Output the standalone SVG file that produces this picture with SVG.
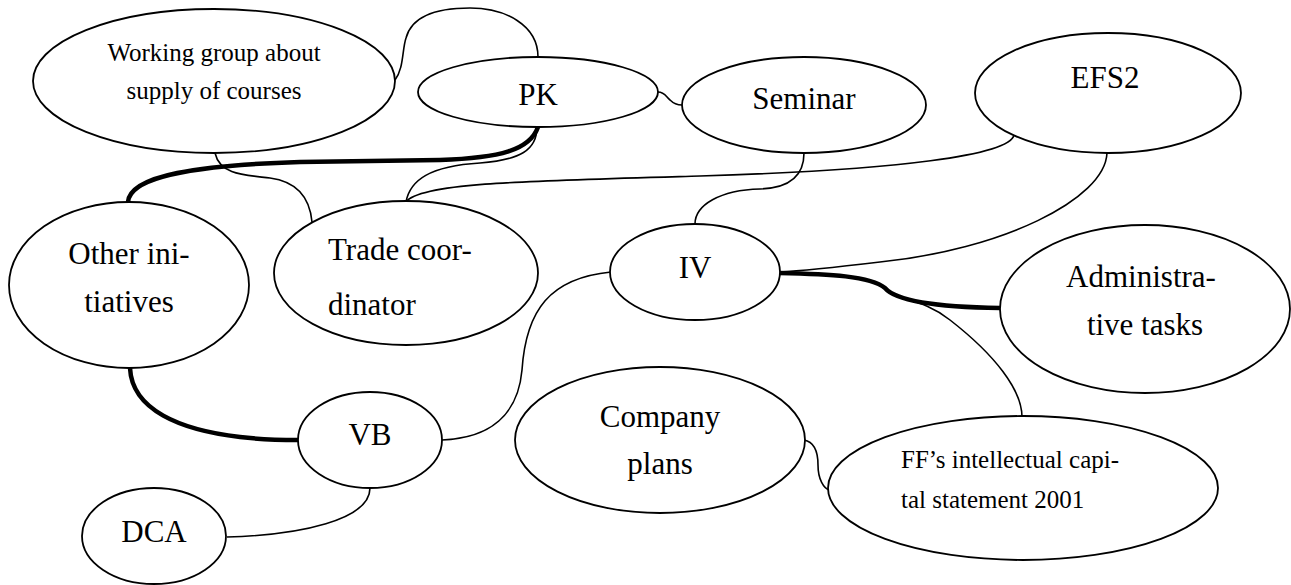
<svg xmlns="http://www.w3.org/2000/svg" width="1291" height="585" viewBox="0 0 1291 585">
  <style>
    .node ellipse { fill: #ffffff; stroke: #000000; stroke-width: 1.8; }
    .node text { font-family: "Liberation Serif", "Times New Roman", serif; fill: #000000; }
    .big { font-size: 31px; }
    .small { font-size: 25px; }
    .mid { text-anchor: middle; }
    .link { fill: none; stroke: #000000; stroke-width: 1.6; }
    .strong { fill: none; stroke: #000000; stroke-width: 4.5; }
  </style>
  <rect width="1291" height="585" fill="#ffffff"/>

  <!-- connectors -->
  <g id="connectors">
    <path class="link" d="M395,80 C404,68 402,50 406,38 C412,15 440,8 470,8 C505,8 538,25 538,57"/>
    <path class="link" d="M658,92 C665,92 666,97 670,100 C674,104 678,105 682,105"/>
    <path class="link" d="M215,153 C220,175 245,175 270,178 C300,182 310,200 312,222"/>
    <path class="link" d="M537,127 C537,150 520,160 480,163 C430,166 410,180 406,202"/>
    <path class="link" d="M1014,135 C1010,155 900,170 700,176 C520,181 420,183 406,202"/>
    <path class="link" d="M804,153 C804,175 790,188 760,189 C720,190 695,205 695,224"/>
    <path class="link" d="M1107,153 C1105,200 1000,250 880,262 C830,268 800,271 779,272"/>
    <path class="link" d="M779,272 C840,273 880,280 888,291 C900,300 925,300 950,320 C995,355 1022,390 1022,417"/>
    <path class="link" d="M442,440 C490,438 518,415 522,370 C526,310 550,278 611,272"/>
    <path class="link" d="M370,488 C370,520 300,535 227,537"/>
    <path class="link" d="M804,440 C815,442 818,452 818,465 C818,480 824,488 829,490"/>
    <path class="strong" d="M538,127 C530,150 500,158 440,160 L300,162 C200,165 130,175 128,202"/>
    <path class="strong" d="M779,273 C830,274 870,276 885,288 C895,300 930,307 1000,308"/>
    <path class="strong" d="M130,368 C132,410 180,430 240,437 C265,440 285,440 298,440"/>
  </g>

  <g id="working-group" class="node">
    <ellipse cx="214" cy="81" rx="181" ry="72"/>
    <text class="small mid" x="214" y="61">Working group about</text>
    <text class="small mid" x="214" y="99">supply of courses</text>
  </g>

  <g id="pk" class="node">
    <ellipse cx="538" cy="92" rx="120" ry="35"/>
    <text class="big mid" x="538" y="105">PK</text>
  </g>

  <g id="seminar" class="node">
    <ellipse cx="804" cy="105" rx="122" ry="48"/>
    <text class="big mid" x="804" y="109">Seminar</text>
  </g>

  <g id="efs2" class="node">
    <ellipse cx="1108" cy="93" rx="133" ry="60"/>
    <text class="big mid" x="1105" y="88">EFS2</text>
  </g>

  <g id="other-initiatives" class="node">
    <ellipse cx="129" cy="285" rx="120" ry="83"/>
    <text class="big mid" x="129" y="264">Other ini-</text>
    <text class="big mid" x="129" y="312">tiatives</text>
  </g>

  <g id="trade-coordinator" class="node">
    <ellipse cx="406" cy="273" rx="132" ry="72"/>
    <text class="big" x="328" y="260">Trade coor-</text>
    <text class="big" x="328" y="315">dinator</text>
  </g>

  <g id="iv" class="node">
    <ellipse cx="695" cy="272" rx="85" ry="48"/>
    <text class="big mid" x="695" y="278">IV</text>
  </g>

  <g id="administrative-tasks" class="node">
    <ellipse cx="1145" cy="309" rx="145" ry="84"/>
    <text class="big mid" x="1141" y="287">Administra-</text>
    <text class="big mid" x="1145" y="335">tive tasks</text>
  </g>

  <g id="vb" class="node">
    <ellipse cx="370" cy="440" rx="72" ry="48"/>
    <text class="big mid" x="370" y="445">VB</text>
  </g>

  <g id="dca" class="node">
    <ellipse cx="154" cy="536" rx="72" ry="48"/>
    <text class="big mid" x="154" y="542">DCA</text>
  </g>

  <g id="company-plans" class="node">
    <ellipse cx="660" cy="440" rx="145" ry="73"/>
    <text class="big mid" x="660" y="427">Company</text>
    <text class="big mid" x="660" y="474">plans</text>
  </g>

  <g id="ff-capital-statement" class="node">
    <ellipse cx="1023" cy="488" rx="195" ry="72"/>
    <text class="small" x="901" y="468">FF’s intellectual capi-</text>
    <text class="small" x="901" y="508">tal statement 2001</text>
  </g>
</svg>
